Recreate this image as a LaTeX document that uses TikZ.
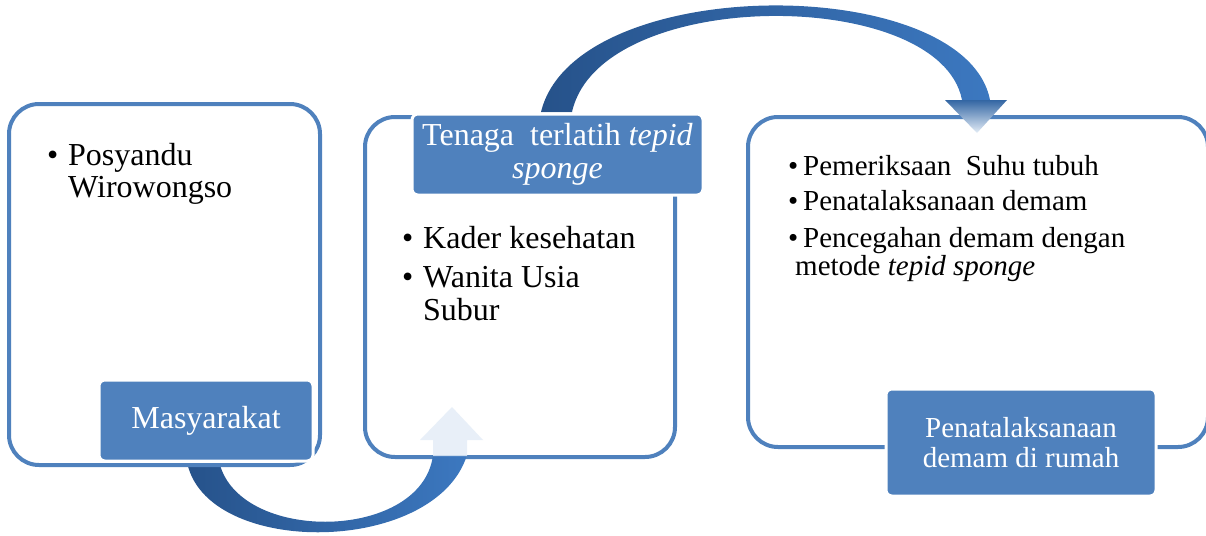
\documentclass[tikz,border=0pt]{standalone}
\usepackage{fontspec}
\setmainfont{Liberation Serif}

\definecolor{boxblue}{RGB}{79,129,189}
\definecolor{arrowdark}{RGB}{38,82,138}
\definecolor{arrowlight}{RGB}{60,120,192}
\definecolor{arrowpale}{RGB}{228,237,247}

\tikzset{
  panel/.style={draw=boxblue, line width=4pt, fill=white, rounded corners=30pt},
  tag/.style={draw=white, line width=3pt, fill=boxblue, rounded corners=6pt, text=white, align=center, inner sep=0pt},
  items/.style={anchor=base west, align=left, inner sep=0pt},
}
\newcommand{\bul}[1]{\makebox[#1][l]{\textbullet}}

\begin{document}
\begin{tikzpicture}[x=1pt,y=-1pt]
  \useasboundingbox (0,0) rectangle (1206,535);

  \node[panel, minimum width=310pt, minimum height=340pt] (kader) at (520,287) {};

  % lower arrow
  \shade[left color=arrowdark, right color=arrowlight] (186,455) .. controls (195,558) and (435,558) .. (467,455) -- (433,455) .. controls (422,544) and (228,544) .. (218,455) -- cycle;
  \fill[arrowpale, fill opacity=0.85] (433,456) -- (433,440) -- (420,440) -- (452,407) -- (483,440) -- (467,440) -- (467,456) -- cycle;

  \node[panel, minimum width=311pt, minimum height=361pt] (posyandu) at (164.5,284.5) {};
  \node[tag, minimum width=214pt, minimum height=81pt, font=\fontsize{32}{33}\selectfont] (masy) at (206,420.5) {Masyarakat};

  \node[panel, minimum width=460pt, minimum height=330pt] (rumah) at (978,282) {};

  % upper arrow
  \shade[left color=arrowdark, right color=arrowlight] (541,112) .. controls (575,-28) and (965,-28) .. (990,100) -- (962,100) .. controls (940,-14) and (600,-14) .. (572,112) -- cycle;
  \shade[top color=arrowlight!85!black, bottom color=arrowpale] (945,100) -- (1007,100) -- (977,133) -- cycle;

  \node[tag, minimum width=291pt, minimum height=81pt, font=\fontsize{32}{33}\selectfont] (tenaga) at (557.5,154.5) {Tenaga\ \ terlatih \textit{tepid}\\\textit{sponge}};
  \node[tag, minimum width=270pt, minimum height=107pt, font=\fontsize{29}{30}\selectfont] (demam) at (1021,442.5) {Penatalaksanaan\\demam di rumah};

  \node[items, font=\fontsize{32}{32}\selectfont] (posyl) at (47,197) {\bul{21pt}Posyandu\\\hspace*{21pt}Wirowongso};
  \node[items, font=\fontsize{32}{33}\selectfont] (kaderl) at (402,320) {\bul{21pt}Kader kesehatan\\[6pt]\bul{21pt}Wanita Usia\\\hspace*{21pt}Subur};
  \node[items, font=\fontsize{29}{28}\selectfont] (rumahl) at (788,275) {\bul{15pt}Pemeriksaan\ \ Suhu tubuh\\[7pt]\bul{15pt}Penatalaksanaan demam\\[9pt]\bul{15pt}Pencegahan demam dengan\\\hspace*{7pt}metode \textit{tepid sponge}};
\end{tikzpicture}
\end{document}
